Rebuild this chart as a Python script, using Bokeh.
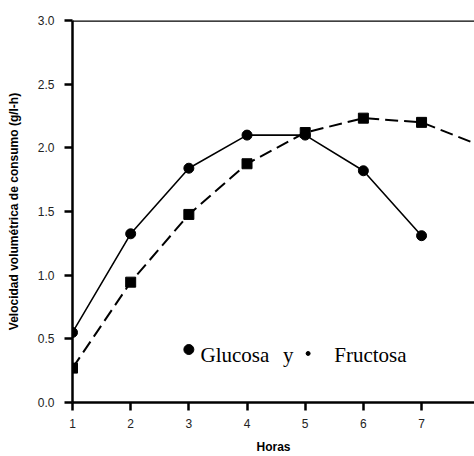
from bokeh.plotting import figure
from bokeh.models import Range1d, Span, Label, FixedTicker, NumeralTickFormatter, ColumnDataSource
from bokeh.embed import file_html
from bokeh.resources import INLINE

horas = [1, 2, 3, 4, 5, 6, 7]
glucosa = [0.55, 1.325, 1.84, 2.10, 2.10, 1.82, 1.31]
horas_f = [1, 2, 3, 4, 5, 6, 7, 8]
fructosa = [0.27, 0.945, 1.477, 1.875, 2.12, 2.233, 2.20, 2.02]
x_ticks = [1, 2, 3, 4, 5, 6, 7, 8]
y_ticks = [0.0, 0.5, 1.0, 1.5, 2.0, 2.5, 3.0]

p = figure(width=474, height=456, output_backend="svg", toolbar_location=None,
           x_range=Range1d(1, 7.91), y_range=Range1d(0, 3.0),
           min_border_left=72, min_border_right=0, min_border_top=20, min_border_bottom=54)
p.outline_line_color = None
p.grid.visible = False
p.background_fill_color = "white"
p.border_fill_color = "white"

p.axis.axis_line_width = 2.5
p.axis.axis_line_color = "black"
p.axis.major_tick_line_width = 2.5
p.axis.major_tick_line_color = "black"
p.axis.major_tick_out = 8
p.axis.major_tick_in = 0
p.axis.minor_tick_line_color = None
p.axis.major_label_text_font = "Liberation Sans"
p.axis.major_label_text_font_size = "12px"
p.axis.major_label_text_color = "#222222"
p.axis.axis_label_text_font = "Liberation Sans"
p.axis.axis_label_text_font_size = "12px"
p.axis.axis_label_text_font_style = "bold"
p.axis.axis_label_text_color = "black"

p.xaxis.ticker = FixedTicker(ticks=x_ticks)
p.yaxis.ticker = FixedTicker(ticks=y_ticks)
p.yaxis.formatter = NumeralTickFormatter(format="0.0")
p.xaxis.axis_label = "Horas"
p.yaxis.axis_label = "Velocidad volumétrica de consumo (g/l-h)"
p.xaxis.major_label_standoff = 8
p.yaxis.major_label_standoff = 10
p.xaxis.axis_label_standoff = 9
p.yaxis.axis_label_standoff = 14

p.add_layout(Span(location=3.0, dimension="width", line_color="black", line_width=2.5))

src_g = ColumnDataSource(dict(x=horas, y=glucosa))
src_f = ColumnDataSource(dict(x=horas_f, y=fructosa))

p.line("x", "y", source=src_f, line_color="black", line_width=2, line_dash="13 6")
p.line("x", "y", source=src_g, line_color="black", line_width=1.6)
p.scatter("x", "y", source=src_g, marker="circle", size=10, fill_color="black", line_color="black")
p.scatter("x", "y", source=src_f, marker="square", size=10, fill_color="black", line_color="black")

# legend (as in the original: text annotation)
p.scatter(x=[3.0], y=[0.416], marker="circle", size=10, fill_color="black", line_color="black")
p.scatter(x=[5.05], y=[0.385], marker="circle", size=4, fill_color="black", line_color="black")
for tx, xx in [("Glucosa", 3.2), ("y", 4.62), ("Fructosa", 5.5)]:
    p.add_layout(Label(x=xx, y=0.37, text=tx, text_font="Liberation Serif",
                       text_font_size="21px", text_color="black",
                       text_baseline="alphabetic", text_align="left"))

open("out.html", "w").write(file_html(p, INLINE))
